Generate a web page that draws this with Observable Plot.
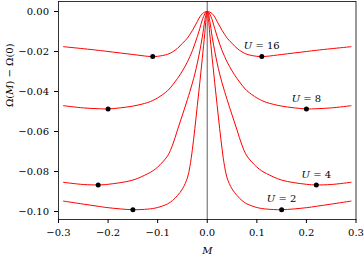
<!DOCTYPE html>
<html><head><meta charset="utf-8">
<script src="https://cdn.jsdelivr.net/npm/d3@7"></script>
<script src="https://cdn.jsdelivr.net/npm/@observablehq/plot@0.6"></script>
<style>body{margin:0;background:#fff}</style>
</head><body><div id="chart"></div>
<script>
const M = [-0.29, -0.25, -0.22, -0.2, -0.15, -0.12, -0.11, -0.1, -0.08, -0.07, -0.06, -0.05, -0.04, -0.035, -0.03, -0.025, -0.02, -0.015, -0.01, -0.005, -0.0025, 0, 0.0025, 0.005, 0.01, 0.015, 0.02, 0.025, 0.03, 0.035, 0.04, 0.05, 0.06, 0.07, 0.08, 0.1, 0.11, 0.12, 0.15, 0.2, 0.22, 0.25, 0.29];
const omegaU16 = [-0.0176, -0.0186, -0.0194, -0.0200, -0.0215, -0.0224, -0.0225, -0.0224, -0.0214, -0.0202, -0.0184, -0.0159, -0.0133, -0.0114, -0.0095, -0.0073, -0.0050, -0.0027, -0.0011, -0.0003, -0.0001, 0, -0.0001, -0.0003, -0.0011, -0.0027, -0.0050, -0.0073, -0.0095, -0.0114, -0.0133, -0.0159, -0.0184, -0.0202, -0.0214, -0.0224, -0.0225, -0.0224, -0.0215, -0.0200, -0.0194, -0.0186, -0.0176];
const omegaU8 = [-0.0471, -0.0482, -0.0486, -0.0487, -0.0473, -0.0455, -0.0445, -0.0432, -0.0396, -0.0368, -0.0335, -0.0297, -0.0252, -0.0225, -0.0196, -0.0162, -0.0125, -0.0085, -0.0042, -0.0012, -0.0003, 0, -0.0003, -0.0012, -0.0042, -0.0085, -0.0125, -0.0162, -0.0196, -0.0225, -0.0252, -0.0297, -0.0335, -0.0368, -0.0396, -0.0432, -0.0445, -0.0455, -0.0473, -0.0487, -0.0486, -0.0482, -0.0471];
const omegaU4 = [-0.0854, -0.0865, -0.0867, -0.0864, -0.0843, -0.0811, -0.0797, -0.0778, -0.0722, -0.0668, -0.0592, -0.0517, -0.0440, -0.0400, -0.0358, -0.0312, -0.0258, -0.0197, -0.0128, -0.0045, -0.0013, 0, -0.0013, -0.0045, -0.0128, -0.0197, -0.0258, -0.0312, -0.0358, -0.0400, -0.0440, -0.0517, -0.0592, -0.0668, -0.0722, -0.0778, -0.0797, -0.0811, -0.0843, -0.0864, -0.0867, -0.0865, -0.0854];
const omegaU2 = [-0.0948, -0.0963, -0.0974, -0.0981, -0.0991, -0.0988, -0.0985, -0.0980, -0.0962, -0.0945, -0.0920, -0.0887, -0.0832, -0.0775, -0.0690, -0.0585, -0.0470, -0.0355, -0.0235, -0.0110, -0.0040, 0, -0.0040, -0.0110, -0.0235, -0.0355, -0.0470, -0.0585, -0.0690, -0.0775, -0.0832, -0.0887, -0.0920, -0.0945, -0.0962, -0.0980, -0.0985, -0.0988, -0.0991, -0.0981, -0.0974, -0.0963, -0.0948];

const seriesU = ["16", "8", "4", "2"];
const labelText = ["U = 16", "U = 8", "U = 4", "U = 2"];
const minM = [0.11, 0.2, 0.22, 0.15];
const minOmega = [-0.0225, -0.0487, -0.0867, -0.0991];

const xTicks = [-0.3, -0.2, -0.1, 0, 0.1, 0.2, 0.3];
const yTicks = [-0.10, -0.08, -0.06, -0.04, -0.02, 0.00];

const seriesValues = [omegaU16, omegaU8, omegaU4, omegaU2];
const rows = seriesU.flatMap((u, k) => M.map((m, i) => ({U: u, M: m, omega: seriesValues[k][i]})));
const dots = seriesU.flatMap((u, k) => [{M: -minM[k], omega: minOmega[k]}, {M: minM[k], omega: minOmega[k]}]);
const labels = seriesU.map((u, k) => ({M: minM[k], omega: minOmega[k], label: labelText[k]}));

const chart = Plot.plot({
  width: 364, height: 255,
  marginLeft: 58, marginRight: 8.5, marginTop: 1, marginBottom: 36,
  style: {fontFamily: "DejaVu Serif", fontSize: "10px", background: "white", color: "black"},
  x: {domain: [-0.3, 0.3]},
  y: {domain: [-0.104, 0.005]},
  marks: [
    Plot.ruleX([0], {stroke: "#7a7a7a", strokeWidth: 1.2}),
    Plot.line(rows, {x: "M", y: "omega", z: "U", stroke: "red", strokeWidth: 1, curve: "catmull-rom"}),
    Plot.dot(dots, {x: "M", y: "omega", r: 2.5, fill: "black"}),
    Plot.text(labels, {x: "M", y: "omega", text: "label", lineAnchor: "bottom", dy: -7.4, fill: "black", fontSize: 10}),
    Plot.axisX({ticks: xTicks, tickFormat: d3.format(".1f"), tickSize: 4, tickPadding: 5, label: null}),
    Plot.axisY({ticks: yTicks, tickFormat: d3.format(".2f"), tickSize: 4, tickPadding: 5.5, label: null}),
    Plot.frame({stroke: "black", strokeWidth: 0.8}),
    Plot.text(["M"], {frameAnchor: "bottom", dy: 30.8, lineAnchor: "middle", fontStyle: "italic", fontSize: 10}),
    Plot.text(["Ω(M) − Ω(0)"], {frameAnchor: "left", dx: -49.2, dy: -3.5, rotate: -90, lineAnchor: "middle", fontSize: 10})
  ]
});

chart.querySelectorAll("text").forEach(t => {
  const s = t.textContent;
  if (/^U = \d+$/.test(s)) {
    t.innerHTML = '<tspan font-style="italic">U</tspan>' + s.slice(1);
  } else if (s === "Ω(M) − Ω(0)") {
    t.innerHTML = 'Ω(<tspan font-style="italic">M</tspan>) − Ω(0)';
  }
});
document.getElementById("chart").appendChild(chart);
</script>
</body></html>
